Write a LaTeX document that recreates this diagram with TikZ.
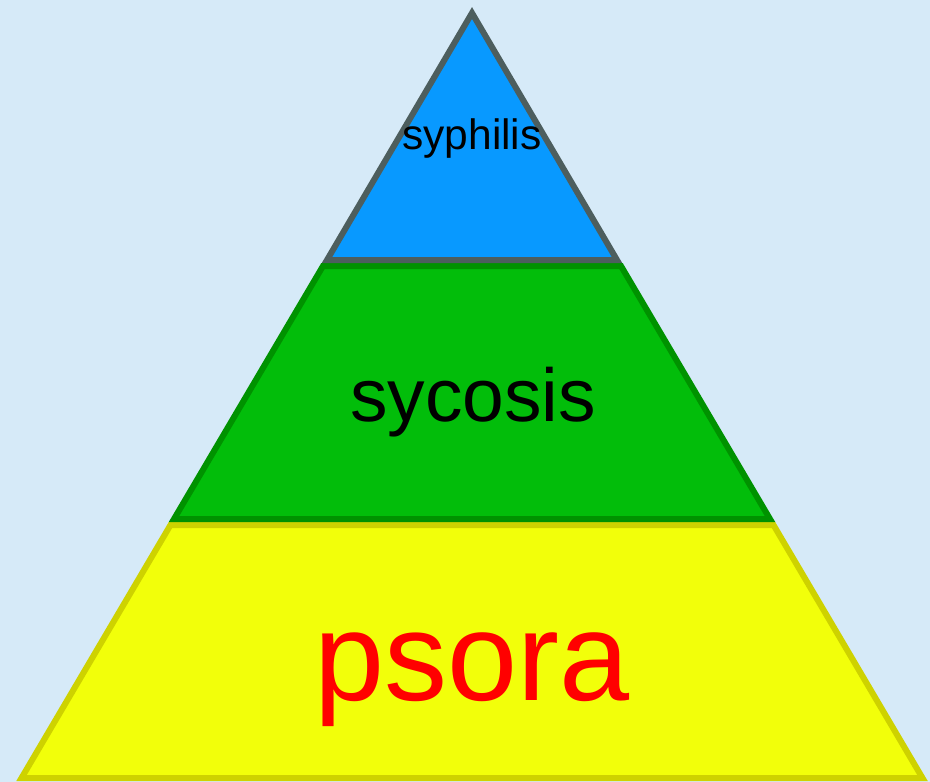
\documentclass[tikz,border=0pt]{standalone}
\usepackage{fontspec}
\setmainfont{Liberation Sans}
\definecolor{bgblue}{RGB}{214,234,248}
\definecolor{topfill}{RGB}{8,153,255}
\definecolor{topline}{RGB}{77,94,94}
\definecolor{midfill}{RGB}{2,189,10}
\definecolor{midline}{RGB}{0,146,0}
\definecolor{lowfill}{RGB}{242,255,10}
\definecolor{lowline}{RGB}{206,210,0}
\tikzset{
  layer/.style={line width=6pt, line join=miter},
  lbl/.style={anchor=base, inner sep=0pt, font=#1}
}
\begin{document}
\begin{tikzpicture}[x=1pt,y=-1pt]
\fill[bgblue] (0,0) rectangle (930,782);
\useasboundingbox (0,0) rectangle (930,782);
% layers
\draw[layer, draw=lowline, fill=lowfill] (170.5,525) -- (773.5,525) -- (922.5,778) -- (21.5,778) -- cycle;
\draw[layer, draw=midline, fill=midfill] (323,266) -- (621,266) -- (770,519) -- (174,519) -- cycle;
\draw[layer, draw=topline, fill=topfill] (472,13) -- (617,260) -- (327,260) -- cycle;
% labels
\node[lbl={\fontsize{42.5}{46}\selectfont}, text=black] (syph) at (472,149) {syphilis};
\node[lbl={\fontsize{75}{80}\selectfont}, text=black] (syco) at (473,421) {sycosis};
\node[lbl={\fontsize{126}{130}\selectfont}, text=red] (psora) at (472,700) {psora};
\end{tikzpicture}
\end{document}
